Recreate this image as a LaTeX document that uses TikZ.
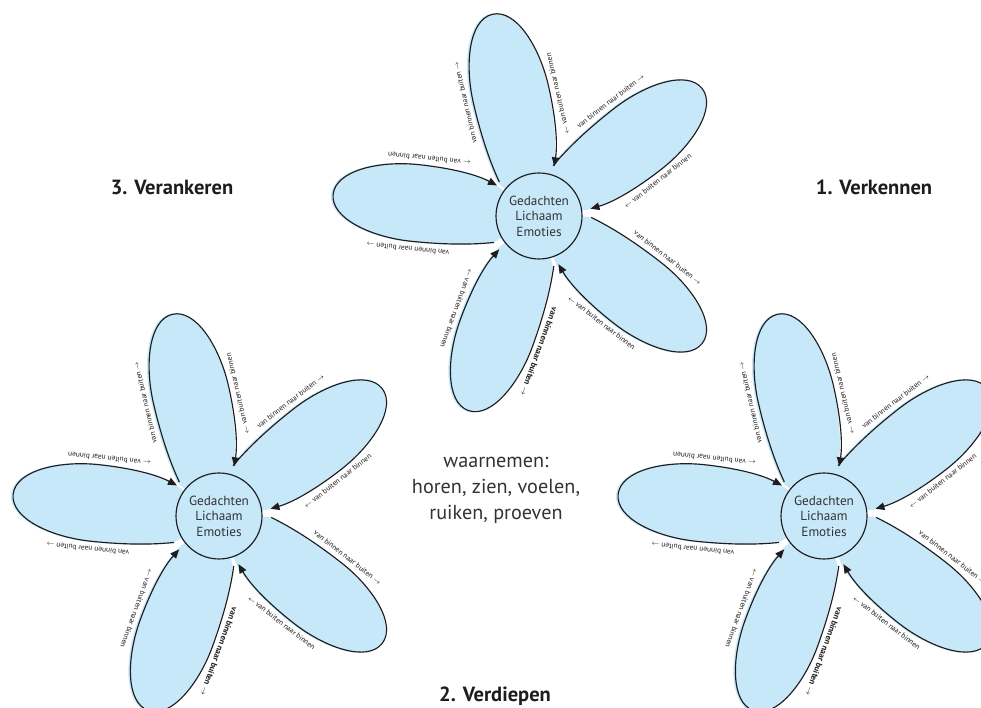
\documentclass[tikz,border=0pt]{standalone}
\usepackage{fontspec}
\setmainfont{PT Sans}
\usetikzlibrary{arrows.meta}
\definecolor{petalblue}{RGB}{199,232,249}
\definecolor{ink}{RGB}{30,28,30}
\definecolor{softink}{RGB}{50,50,55}
\tikzset{
  petalfill/.style={fill=petalblue, draw=petalblue, line width=1.2pt},
  petalline/.style={draw=ink, line width=1.15pt, -{Triangle[length=9pt,width=7.5pt]}},
  core/.style={circle, draw=ink, line width=1.15pt, fill=petalblue, minimum size=86pt, inner sep=0pt, align=center, text=softink, font=\fontsize{13.2}{15.5}\selectfont},
  edgelbl/.style={inner sep=0pt, text=ink, font=\fontsize{7.4}{8}\selectfont},
  edgelblbold/.style={inner sep=0pt, text=ink, font=\bfseries\fontsize{8.4}{9}\selectfont},
  phase/.style={inner sep=0pt, text=ink, font=\bfseries\fontsize{20.5}{22}\selectfont},
  sense/.style={inner sep=0pt, align=center, text=softink, font=\fontsize{20.2}{26}\selectfont},
}
\newcommand\petaloutline{(42,31) .. controls (70,37) and (100,38.5) .. (125,38.5) .. controls (165,38.5) and (207,24) .. (207,0) .. controls (207,-24) and (165,-38.5) .. (125,-38.5) .. controls (100,-38.5) and (70,-36) .. (45,-26)}
\newcommand\flower[3]{%
  \begin{scope}[shift={(#2,#3)}]
    \foreach \a in {103,38,-38,-110,174}{
      \fill[petalfill, xshift=-1.5pt, rotate=\a] (0,0) -- \petaloutline -- cycle;
    }
    \node[core] (#1-core) at (0,0) {Gedachten\\Lichaam\\Emoties};
    \foreach \a/\k/\s in {103/a/edgelbl,38/b/edgelbl,-38/c/edgelbl,-110/d/edgelblbold,174/e/edgelbl}{
      \begin{scope}[rotate=\a]
        \draw[petalline] \petaloutline;
        \node[\s, rotate=\a] (#1-\k-out) at (127,46.5) {van binnen naar buiten $\rightarrow$};
        \node[edgelbl, rotate=\a] (#1-\k-in) at (115,-45.5) {$\leftarrow$ van buiten naar binnen};
      \end{scope}
    }
  \end{scope}}
\begin{document}
\begin{tikzpicture}[x=1pt,y=1pt]
\useasboundingbox (0,0) rectangle (981,708);
\fill[white] (0,0) rectangle (981,708);
\clip (0,0) rectangle (981,708);
\flower{top}{539}{492}
\flower{left}{219}{192}
\flower{right}{824}{192}
\node[phase] (verkennen) at (874,521) {1. Verkennen};
\node[phase] (verankeren) at (172,521) {3. Verankeren};
\node[phase] (verdiepen) at (495,12) {2. Verdiepen};
\node[sense] (waarnemen) at (496,218) {waarnemen:\\horen, zien, voelen,\\ruiken, proeven};
\end{tikzpicture}
\end{document}
